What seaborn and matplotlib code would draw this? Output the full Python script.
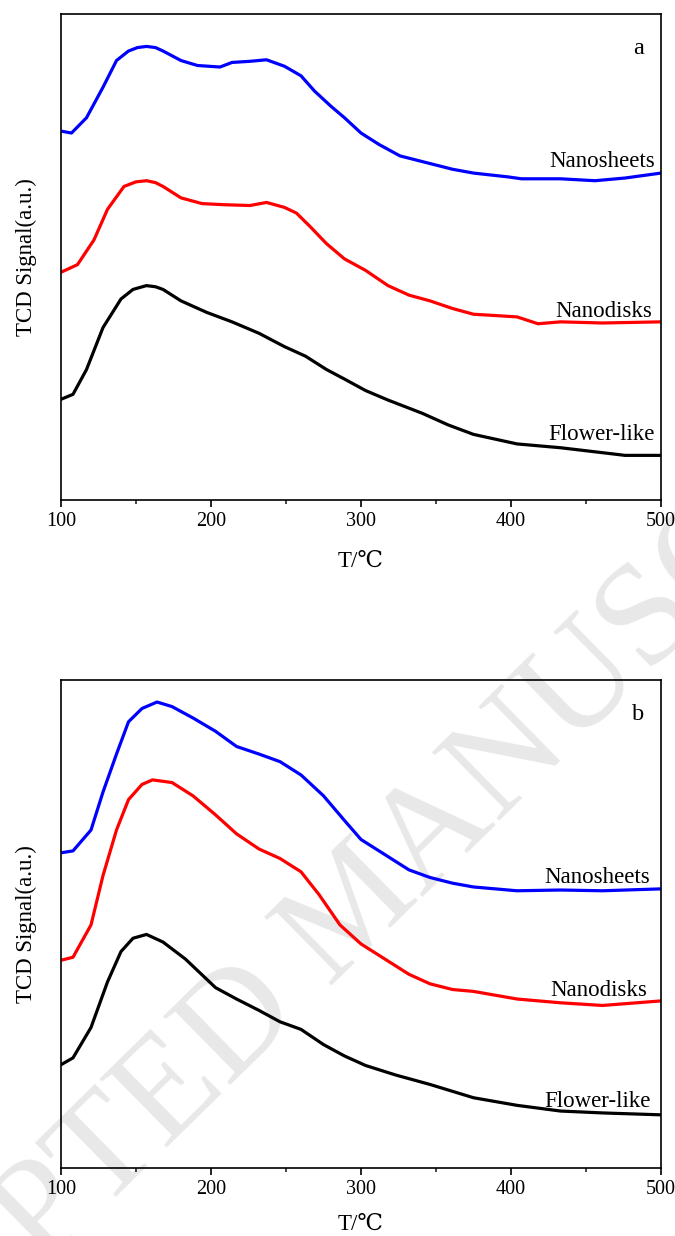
import numpy as np
import pandas as pd
import matplotlib
matplotlib.use("Agg")
import matplotlib.pyplot as plt
import seaborn as sns

# ---------------- data (arbitrary TCD signal units) ----------------
# Panel a
a_sheets_T = [100, 107, 117, 128, 137, 145, 151, 157, 163, 168, 180, 191, 206, 214, 226, 237, 249, 260, 269, 280, 289, 300, 312, 326, 346, 361, 375, 398, 407, 433, 456, 476, 500]
a_sheets_S = [967, 962, 1002, 1082, 1152, 1177, 1186, 1189, 1186, 1177, 1152, 1139, 1135, 1147, 1150, 1154, 1137, 1112, 1072, 1032, 1002, 962, 932, 902, 882, 867, 857, 847, 842, 842, 837, 844, 857]

a_disks_T = [100, 111, 122, 131, 142, 150, 157, 163, 168, 180, 194, 209, 226, 237, 249, 257, 266, 277, 289, 303, 318, 332, 346, 361, 375, 404, 418, 433, 461, 500]
a_disks_S = [597, 617, 682, 762, 822, 834, 837, 832, 822, 792, 777, 774, 772, 780, 767, 752, 717, 672, 632, 602, 562, 537, 522, 502, 487, 480, 462, 467, 464, 467]

a_flower_T = [100, 108, 117, 128, 140, 148, 157, 163, 168, 180, 197, 214, 232, 249, 263, 277, 289, 303, 318, 341, 358, 375, 404, 433, 461, 476, 500]
a_flower_S = [264, 277, 342, 452, 527, 552, 562, 559, 552, 522, 492, 467, 437, 402, 377, 342, 317, 287, 262, 227, 197, 172, 147, 137, 124, 117, 117]

# Panel b
b_sheets_T = [100, 108, 120, 128, 137, 145, 154, 164, 174, 188, 203, 217, 232, 246, 260, 275, 289, 300, 318, 332, 346, 361, 375, 404, 433, 461, 500]
b_sheets_S = [830, 835, 890, 990, 1090, 1175, 1210, 1227, 1215, 1185, 1150, 1110, 1090, 1070, 1035, 980, 915, 865, 820, 785, 765, 750, 740, 730, 732, 730, 735]

b_disks_T = [100, 108, 120, 128, 137, 145, 154, 161, 174, 188, 203, 217, 232, 246, 260, 272, 286, 300, 318, 332, 346, 361, 375, 404, 433, 461, 500]
b_disks_S = [547, 555, 640, 770, 890, 970, 1010, 1022, 1015, 980, 930, 880, 840, 815, 780, 720, 640, 590, 545, 510, 485, 470, 465, 445, 435, 428, 440]

b_flower_T = [100, 108, 120, 131, 140, 148, 157, 168, 183, 203, 217, 232, 246, 260, 275, 289, 303, 323, 346, 375, 404, 433, 461, 500]
b_flower_S = [272, 290, 370, 490, 570, 605, 615, 595, 550, 475, 445, 415, 385, 365, 325, 295, 270, 245, 220, 185, 165, 150, 145, 140]

series_names = ["Nanosheets", "Nanodisks", "Flower-like"]
series_colors = ["#0000ff", "#ff0000", "#000000"]
panel_letters = ["a", "b"]
x_ticks = [100, 200, 300, 400, 500]

# ---------------- build tables ----------------
def make_df(parts):
    frames = []
    for name, T, S in parts:
        frames.append(pd.DataFrame({"T": T, "S": S, "sample": name}))
    return pd.concat(frames, ignore_index=True)

df_a = make_df([("Nanosheets", a_sheets_T, a_sheets_S),
                ("Nanodisks", a_disks_T, a_disks_S),
                ("Flower-like", a_flower_T, a_flower_S)])
df_b = make_df([("Nanosheets", b_sheets_T, b_sheets_S),
                ("Nanodisks", b_disks_T, b_disks_S),
                ("Flower-like", b_flower_T, b_flower_S)])

sns.set_theme(style="white")
plt.rcParams["font.family"] = ["Liberation Serif", "DejaVu Serif"]

W, H = 675, 1236
fig = plt.figure(figsize=(W / 100, H / 100), dpi=100)
fig.patch.set_facecolor("white")

# watermark
fig.text(383 / W, 1 - 936 / H, "ACCEPTED MANUSCRIPT", rotation=44.5,
         rotation_mode="anchor", ha="center", va="baseline",
         fontsize=105, color="#e8e8e8", zorder=-5,
         family=["Liberation Serif", "DejaVu Serif"])

panels = [
    (df_a, [61, 14, 661, 500], (0, 1274), [15, 12, 40], [496, 494, 496], 14),
    (df_b, [61, 680, 661, 1168], (0, 1285), [15, 12, 20], [493, 491, 493], 10),
]

label_fs = 16.5
tick_fs = 14.5

for (df, box, ylim, offs, lx, xpad), letter in zip(panels, panel_letters):
    l, t, r, b = box
    ax = fig.add_axes([l / W, 1 - b / H, (r - l) / W, (b - t) / H])
    ax.patch.set_alpha(0)
    sns.lineplot(data=df, x="T", y="S", hue="sample", hue_order=series_names,
                 palette=series_colors, linewidth=2.3, legend=False, ax=ax,
                 estimator=None, sort=False)
    ax.set_xlim(100, 500)
    ax.set_ylim(*ylim)
    ax.set_xticks(x_ticks)
    ax.set_xticks([150, 250, 350, 450], minor=True)
    ax.set_yticks([])
    ax.tick_params(axis="x", which="major", direction="out", length=5,
                   width=1.2, labelsize=tick_fs, pad=4, bottom=True, colors="black")
    ax.tick_params(axis="x", which="minor", direction="out", length=3,
                   width=1.2, bottom=True)
    for sp in ax.spines.values():
        sp.set_color("black")
        sp.set_linewidth(1.2)
    ax.set_xlabel("T/℃", fontsize=label_fs, labelpad=xpad, color="black")
    ax.set_ylabel("TCD Signal(a.u.)", fontsize=label_fs, labelpad=17, color="black")
    for name, off, xx in zip(series_names, offs, lx):
        end = df[df["sample"] == name]["S"].iloc[-1]
        ax.text(xx, end + off, name, ha="right", va="baseline",
                fontsize=label_fs, color="black")
    ax.text(0.962, 0.93, letter, transform=ax.transAxes, ha="center",
            va="center", fontsize=label_fs + 1, color="black")

fig.savefig("out.png", dpi=100, facecolor="white")
